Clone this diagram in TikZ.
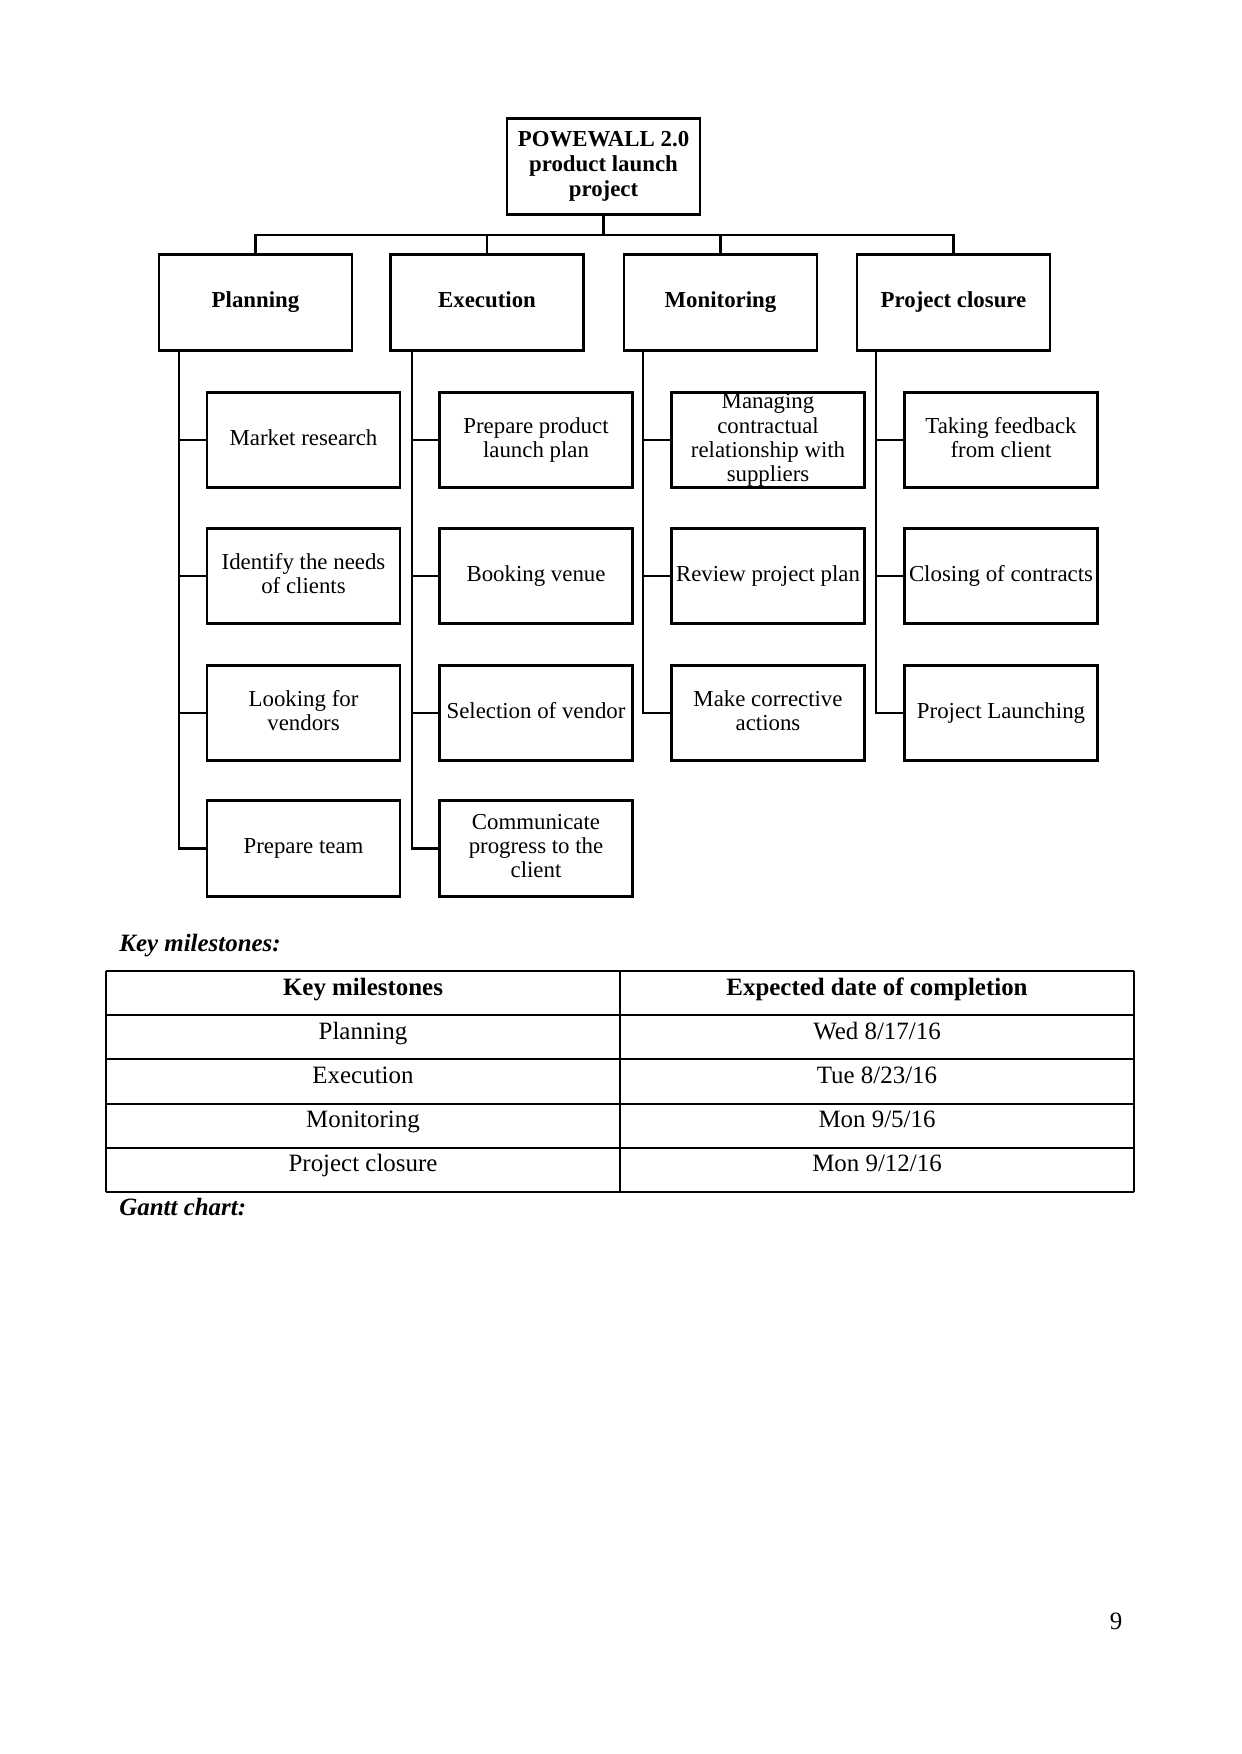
\documentclass[tikz,border=0pt]{standalone}
\usepackage{fontspec}
\setmainfont{Liberation Serif}
\begin{document}
\begin{tikzpicture}[x=0.16922mm,y=-0.16922mm,
  box/.style={draw, line width=1.4pt, minimum width=32.66mm, minimum height=16.2mm,
    inner sep=0pt, align=center, font=\fontsize{11}{11.6}\selectfont,
    execute at begin node={\vphantom{Ag}}, execute at end node={\vphantom{Ag}}},
  headbox/.style={box, font=\fontsize{11}{12}\selectfont\bfseries},
  conn/.style={line width=1.4pt},
  tline/.style={line width=0.6pt},
  ttext/.style={font=\fontsize{12}{14}\selectfont, inner sep=0pt, anchor=base},
  thead/.style={font=\fontsize{12}{14}\selectfont\bfseries, inner sep=0pt, anchor=base},
  label/.style={font=\fontsize{12}{14}\selectfont\bfseries\itshape, anchor=base west, inner sep=0pt}]
\useasboundingbox (0,0) rectangle (1241,1754);
% root
\node[headbox] (root) at (603.5,166.5) {POWEWALL 2.0\\product launch\\project};
\coordinate (bus) at (603.5,235);
% level 1
\node[headbox] (pl) at (255.5,302.5) {Planning};
\node[headbox] (ex) at (487,302.5) {Execution};
\node[headbox] (mo) at (720.5,302.5) {Monitoring};
\node[headbox] (pc) at (953.5,302.5) {Project closure};
\draw[conn] (root.south) -- (bus);
\draw[conn] (bus) -| (pl.north);
\draw[conn] (bus) -| (ex.north);
\draw[conn] (bus) -| (mo.north);
\draw[conn] (bus) -| (pc.north);
% spine coordinates
\coordinate (spl) at (179,350);
\coordinate (sex) at (412,350);
\coordinate (smo) at (643,350);
\coordinate (spc) at (876,350);
% planning children
\node[box] (p1) at (303.5,440) {Market research};
\node[box] (p2) at (303.5,576) {Identify the needs\\of clients};
\node[box] (p3) at (303.5,713) {Looking for\\vendors};
\node[box] (p4) at (303.5,848.5) {Prepare team};
% execution children
\node[box] (e1) at (536,440) {Prepare product\\launch plan};
\node[box] (e2) at (536,576) {Booking venue};
\node[box] (e3) at (536,713) {Selection of vendor};
\node[box] (e4) at (536,848.5) {Communicate\\progress to the\\client};
% monitoring children
\node[box] (m1) at (768,440) {Managing\\contractual\\relationship with\\suppliers};
\node[box] (m2) at (768,576) {Review project plan};
\node[box] (m3) at (768,713) {Make corrective\\actions};
% closure children
\node[box] (c1) at (1001,440) {Taking feedback\\from client};
\node[box] (c2) at (1001,576) {Closing of contracts};
\node[box] (c3) at (1001,713) {Project Launching};
% connectors
\foreach \c in {p1,p2,p3,p4} \draw[conn] (spl) |- (\c.west);
\foreach \c in {e1,e2,e3,e4} \draw[conn] (sex) |- (\c.west);
\foreach \c in {m1,m2,m3} \draw[conn] (smo) |- (\c.west);
\foreach \c in {c1,c2,c3} \draw[conn] (spc) |- (\c.west);
% key milestones
\node[label] (km) at (119,951) {Key milestones:};
\draw[tline] (106,971) -- (1134,971);
\foreach \yy in {1015,1059,1104,1148} \draw[tline] (106,\yy) -- (1134,\yy);
\draw[line width=1.3pt] (106,1192) -- (1134,1192);
\draw[tline] (106,971) -- (106,1192);
\draw[tline] (620,971) -- (620,1192);
\draw[tline] (1134,971) -- (1134,1192);
\node[thead] (h1) at (363,995) {Key milestones};
\node[thead] (h2) at (877,995) {Expected date of completion};
\node[ttext] (r1a) at (363,1039) {Planning};
\node[ttext] (r1b) at (877,1039) {Wed 8/17/16};
\node[ttext] (r2a) at (363,1083) {Execution};
\node[ttext] (r2b) at (877,1083) {Tue 8/23/16};
\node[ttext] (r3a) at (363,1127) {Monitoring};
\node[ttext] (r3b) at (877,1127) {Mon 9/5/16};
\node[ttext] (r4a) at (363,1171) {Project closure};
\node[ttext] (r4b) at (877,1171) {Mon 9/12/16};
\node[label] (gc) at (119,1215) {Gantt chart:};
\node[ttext] (pg) at (1116,1629) {9};
\end{tikzpicture}
\end{document}
